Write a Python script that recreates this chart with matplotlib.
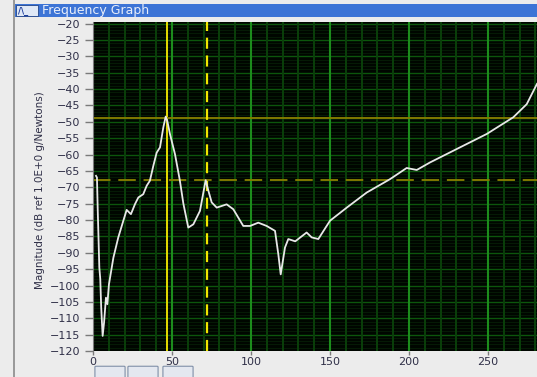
import matplotlib.pyplot as plt
import matplotlib.patches as patches
import numpy as np

# frequency response
freq = [1.9, 2.5, 3.0, 4.0, 4.6, 5.2, 6.1, 7.0, 8.2, 9.1, 10.1, 12.9, 16.0, 19.2, 21.3,
        24.0, 26.6, 28.7, 31.8, 34.0, 36.0, 38.2, 40.3, 42.4, 44.5, 46.0, 47.0, 48.7,
        51.9, 55.0, 57.2, 60.3, 63.5, 67.7, 71.3, 73.0, 75.1, 78.3, 84.6, 88.8, 95.1,
        99.4, 104.6, 109.9, 115.2, 117.3, 118.8, 121.5, 123.6, 128.0, 135.2, 138.4,
        142.6, 150.0, 160.6, 173.2, 188.0, 198.5, 204.9, 213.3, 230.2, 249.2, 266.0,
        274.5, 281.0]
mag = [-66.5, -67.0, -77.0, -94.5, -98.0, -106.8, -115.4, -111.3, -103.7, -105.7,
       -99.6, -91.5, -85.3, -80.2, -76.9, -78.2, -75.1, -73.1, -72.1, -69.5, -68.0,
       -63.4, -59.4, -57.8, -51.7, -48.4, -49.7, -53.7, -59.9, -68.0, -75.0, -82.3,
       -81.3, -77.2, -67.8, -71.0, -74.6, -76.2, -75.2, -76.7, -81.8, -81.8, -80.8,
       -81.8, -83.3, -90.5, -96.6, -88.4, -85.8, -86.5, -83.8, -85.3, -85.8, -80.2,
       -76.2, -71.6, -67.5, -64.1, -64.7, -62.4, -58.3, -53.7, -48.6, -44.6, -38.4]

# cursor positions (x, y)
cursor1 = (46.8, -48.7)
cursor2 = (72.0, -67.7)

W, H = 537, 377
fig = plt.figure(figsize=(W / 100, H / 100), dpi=100)
fig.patch.set_facecolor("#ececec")

# window chrome: left border and title bar
fig.add_artist(patches.Rectangle((13 / W, 0), 2 / W, 1, transform=fig.transFigure,
                                 color="#9a9a9a", lw=0))
fig.add_artist(patches.Rectangle((15 / W, 1 - 17 / H), 1, 13 / H, transform=fig.transFigure,
                                 color="#3c74d6", lw=0))
fig.add_artist(patches.Rectangle((16 / W, 1 - 16 / H), 22 / W, 11 / H, transform=fig.transFigure,
                                 facecolor="#dfe8f6", edgecolor="#224488", lw=0.6))
fig.text(18 / W, 1 - 11 / H, "/\\_", fontsize=6, color="#1a3a9a", va="center",
         fontweight="bold")
fig.text(42 / W, 1 - 10.5 / H, "Frequency Graph", fontsize=9, color="#e8eefa", va="center")

ax = fig.add_axes([93 / W, 26 / H, 1 - 93 / W, (351 - 22) / H])
ax.set_facecolor("#000600")
ax.set_xlim(0, 281)
ax.set_ylim(-120, -19.5)

# grid: minor every 10 Hz / 1 dB, brighter every 50 Hz / 5 dB
for y in np.arange(-119, -19, 1):
    major = y % 5 == 0
    ax.axhline(y, color="#0c560c" if major else "#061f06", lw=1.0 if major else 0.6, zorder=1)
for x in np.arange(10, 290, 10):
    major = x % 50 == 0
    ax.axvline(x, color="#1c8c1c" if major else "#0a400a", lw=1.5 if major else 1.4, zorder=1.5)

# cursors
ax.axvline(cursor1[0], color="#e6dc00", lw=1.4, zorder=2)
ax.axhline(cursor1[1], color="#807a00", lw=1.4, zorder=2)
ax.axvline(cursor2[0], color="#f0e600", lw=1.6, ls=(0, (5, 3)), zorder=2)
ax.axhline(cursor2[1], color="#807a00", lw=1.4, ls=(0, (9, 4)), zorder=2)

ax.plot(freq, mag, color="#e8e8e8", lw=1.3, zorder=3)

ax.set_xticks([0, 50, 100, 150, 200, 250])
ax.set_yticks(np.arange(-120, -15, 5))
ax.tick_params(axis="both", direction="out", length=6, width=1, color="#7a7a7a",
               labelsize=8, labelcolor="#303048", pad=3)
ax.tick_params(axis="x", length=3, pad=1)
for s in ax.spines.values():
    s.set_visible(False)
ax.spines["left"].set_visible(True)
ax.spines["left"].set_color("#7a7a7a")

fig.text(40 / W, 1 - 190 / H, "Magnitude (dB ref 1.0E+0 g/Newtons)", rotation=90,
         fontsize=7.5, color="#303048", ha="center", va="center",
         family=["Liberation Sans Narrow", "DejaVu Sans"])

# toolbar buttons under the graph
for bx in (96, 129, 164):
    fig.add_artist(patches.FancyBboxPatch((bx / W, 0), 28 / W, 10 / H, transform=fig.transFigure,
                                          boxstyle="round,pad=0.002", facecolor="#e4e8f0",
                                          edgecolor="#8090a8", lw=0.8))

fig.savefig("out.png", dpi=100, facecolor=fig.get_facecolor())
